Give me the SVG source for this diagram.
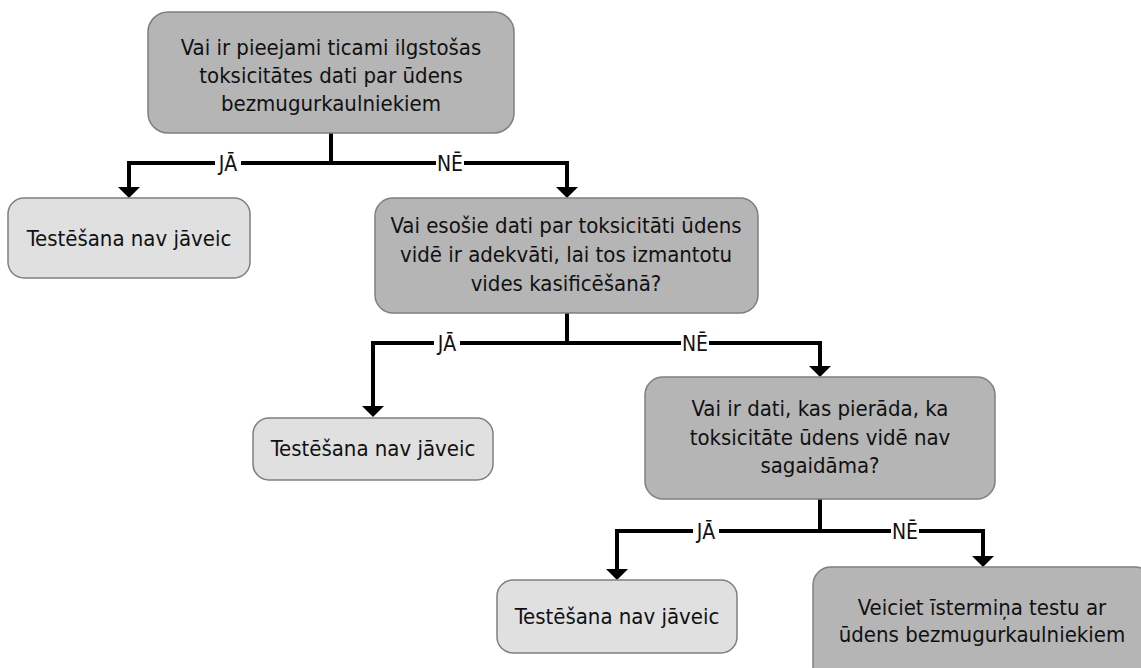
<svg xmlns="http://www.w3.org/2000/svg" width="1141" height="668" viewBox="0 0 1141 668">
  <defs>
    <style>
      .q { fill: #b5b5b5; stroke: #7f7f7f; stroke-width: 1.5; }
      .ok { fill: #e0e0e0; stroke: #7f7f7f; stroke-width: 1.5; }
      .t { font-family: "DejaVu Sans Condensed", "DejaVu Sans", sans-serif; font-stretch: condensed; font-size: 22px; fill: #111; text-anchor: middle; }
      .lbl { font-family: "DejaVu Sans Condensed", "DejaVu Sans", sans-serif; font-stretch: condensed; font-size: 21px; fill: #111; text-anchor: middle; }
      .ln { fill: none; stroke: #000; stroke-width: 4; stroke-linejoin: miter; }
      .bg { fill: #fff; }
    </style>
  </defs>

  <!-- connectors -->
  <g id="connectors">
    <!-- level 1 -->
    <path class="ln" d="M331,133 V163"/>
    <path class="ln" d="M331,163 H129 V187"/>
    <path class="ln" d="M331,163 H567 V187"/>
    <path d="M118,187 H140 L129,198 Z"/>
    <path d="M556,187 H578 L567,198 Z"/>
    <rect class="bg" x="215" y="150" width="26" height="24"/>
    <text class="lbl" x="228" y="171">JĀ</text>
    <rect class="bg" x="436" y="150" width="28" height="24"/>
    <text class="lbl" x="450" y="171">NĒ</text>

    <!-- level 2 -->
    <path class="ln" d="M567,313 V343"/>
    <path class="ln" d="M567,343 H373 V407"/>
    <path class="ln" d="M567,343 H820 V367"/>
    <path d="M362,406 H384 L373,417 Z"/>
    <path d="M809,366 H831 L820,377 Z"/>
    <rect class="bg" x="434" y="330" width="26" height="24"/>
    <text class="lbl" x="447" y="351">JĀ</text>
    <rect class="bg" x="681" y="330" width="28" height="24"/>
    <text class="lbl" x="695" y="351">NĒ</text>

    <!-- level 3 -->
    <path class="ln" d="M820,499 V531"/>
    <path class="ln" d="M820,531 H617 V570"/>
    <path class="ln" d="M820,531 H983 V557"/>
    <path d="M606,569 H628 L617,580 Z"/>
    <path d="M972,556 H994 L983,567 Z"/>
    <rect class="bg" x="693" y="518" width="26" height="24"/>
    <text class="lbl" x="706" y="539">JĀ</text>
    <rect class="bg" x="891" y="518" width="28" height="24"/>
    <text class="lbl" x="905" y="539">NĒ</text>
  </g>

  <!-- question: long-term data available -->
  <g id="q1">
    <rect class="q" x="148" y="12" width="366" height="121" rx="20"/>
    <text class="t" x="331" y="55">Vai ir pieejami ticami ilgstošas</text>
    <text class="t" x="331" y="83">toksicitātes dati par ūdens</text>
    <text class="t" x="331" y="111">bezmugurkaulniekiem</text>
  </g>

  <g id="done1">
    <rect class="ok" x="8" y="198" width="242" height="80" rx="16"/>
    <text class="t" x="129" y="246">Testēšana nav jāveic</text>
  </g>

  <!-- question: existing data adequate -->
  <g id="q2">
    <rect class="q" x="375" y="198" width="383" height="115" rx="18"/>
    <text class="t" x="566" y="233">Vai esošie dati par toksicitāti ūdens</text>
    <text class="t" x="566" y="262">vidē ir adekvāti, lai tos izmantotu</text>
    <text class="t" x="566" y="291">vides kasificēšanā?</text>
  </g>

  <g id="done2">
    <rect class="ok" x="253" y="418" width="240" height="62" rx="16"/>
    <text class="t" x="373" y="456">Testēšana nav jāveic</text>
  </g>

  <!-- question: toxicity not expected -->
  <g id="q3">
    <rect class="q" x="645" y="377" width="350" height="122" rx="18"/>
    <text class="t" x="820" y="416">Vai ir dati, kas pierāda, ka</text>
    <text class="t" x="820" y="445">toksicitāte ūdens vidē nav</text>
    <text class="t" x="820" y="473">sagaidāma?</text>
  </g>

  <g id="done3">
    <rect class="ok" x="497" y="580" width="240" height="73" rx="16"/>
    <text class="t" x="617" y="624">Testēšana nav jāveic</text>
  </g>

  <g id="test">
    <rect class="q" x="813" y="567" width="340" height="125" rx="18"/>
    <text class="t" x="982" y="615">Veiciet īstermiņa testu ar</text>
    <text class="t" x="982" y="642">ūdens bezmugurkaulniekiem</text>
  </g>
</svg>
